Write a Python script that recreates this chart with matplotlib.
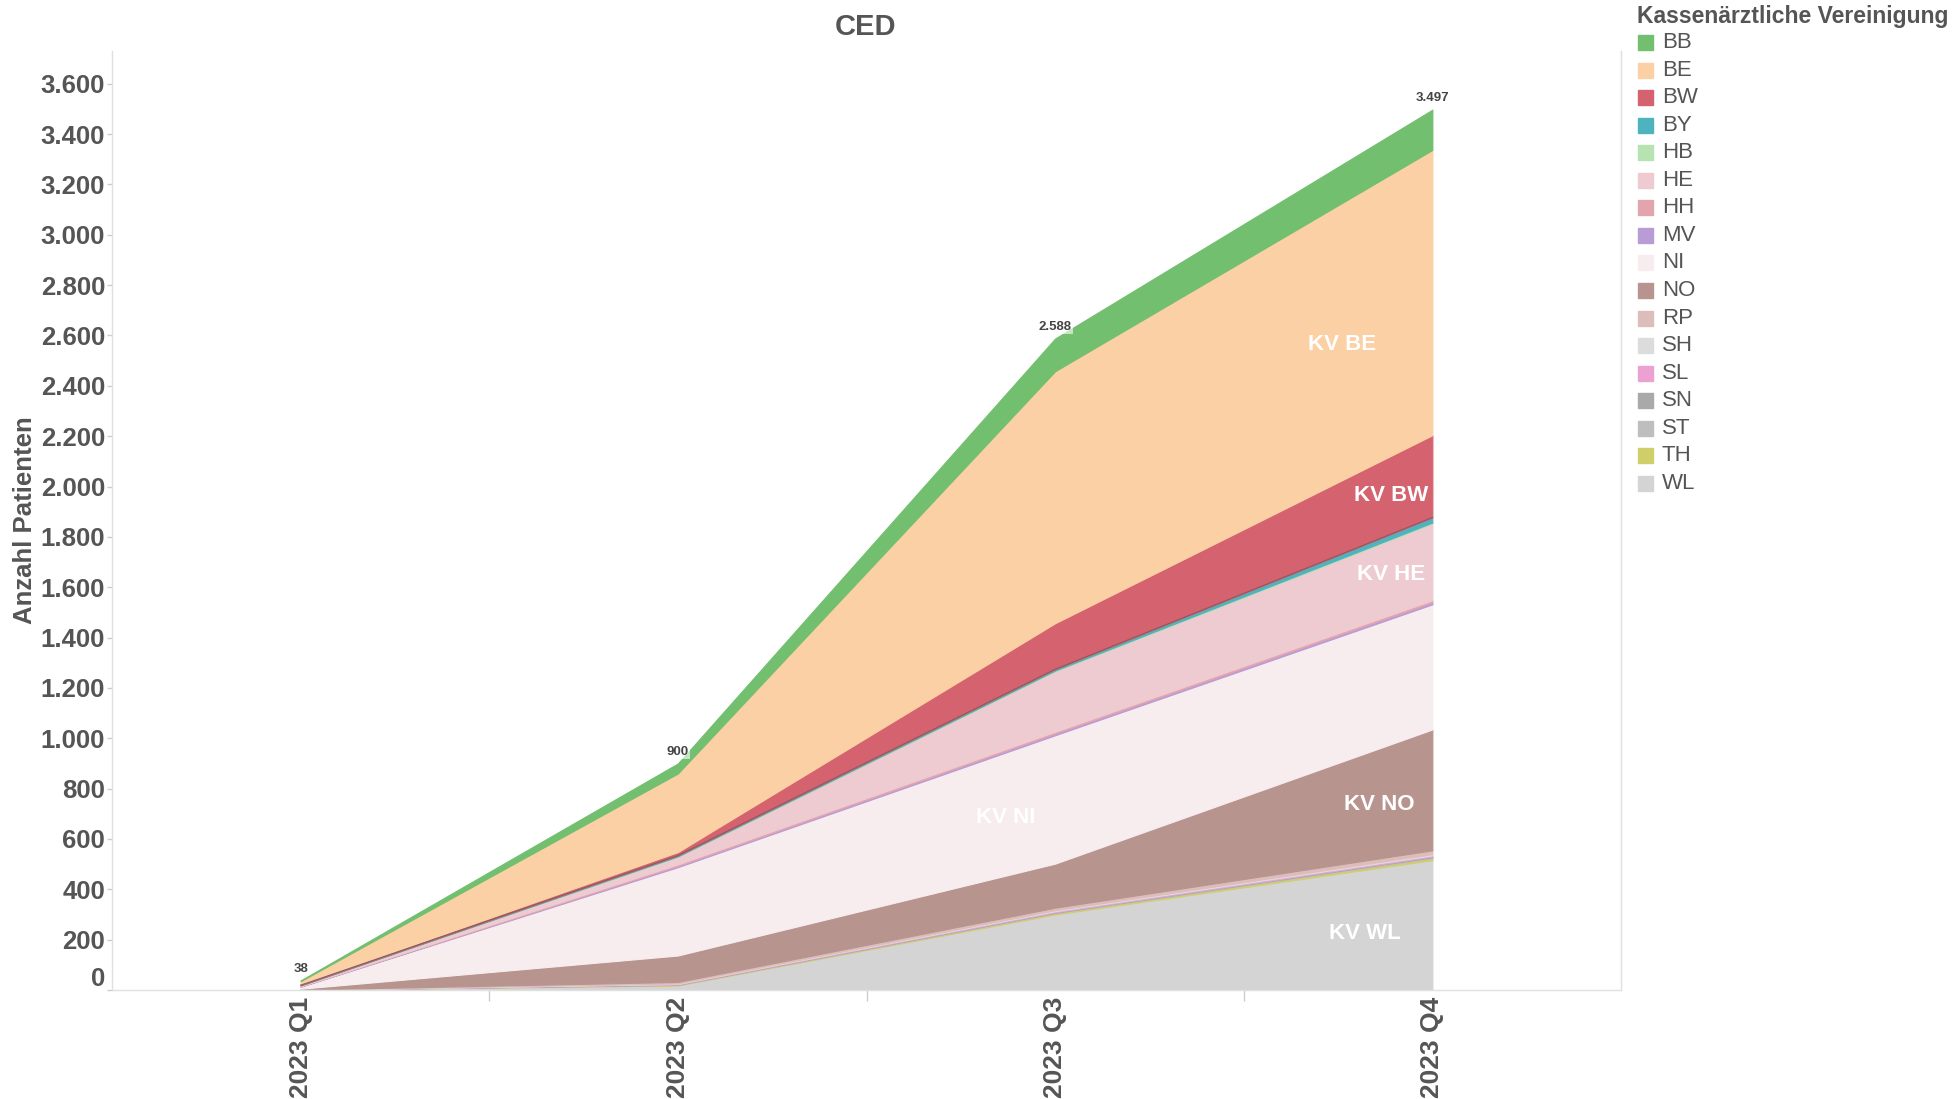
import numpy as np
import matplotlib.pyplot as plt
from matplotlib.patches import Rectangle

# Data: patients per KV and quarter
quarters = ["2023 Q1", "2023 Q2", "2023 Q3", "2023 Q4"]

BB = [3, 40, 130, 160]
BE = [12, 312, 1001, 1133]
BW = [4, 14, 183, 327]
BY = [1, 3, 5, 20]
HB = [0, 2, 3, 4]
HE = [3, 30, 240, 305]
HH = [1, 6, 7, 8]
MV = [1, 5, 7, 8]
NI = [8, 351, 510, 497]
NO = [3, 105, 175, 480]
RP = [1, 6, 10, 15]
SH = [0, 2, 4, 5]
SL = [0, 2, 4, 5]
SN = [0, 1, 2, 3]
ST = [0, 1, 2, 3]
TH = [0, 2, 5, 8]
WL = [1, 18, 300, 516]

kv_names = ["BB", "BE", "BW", "BY", "HB", "HE", "HH", "MV", "NI",
            "NO", "RP", "SH", "SL", "SN", "ST", "TH", "WL"]
kv_values = [BB, BE, BW, BY, HB, HE, HH, MV, NI, NO, RP, SH, SL, SN, ST, TH, WL]

COLORS = {
    "BB": "#72BF6F", "BE": "#FBD0A4", "BW": "#D4636F", "BY": "#4FB3BF",
    "HB": "#B7E2B1", "HE": "#EDCBD1", "HH": "#E3A5AD", "MV": "#B99BD6",
    "NI": "#F7ECEE", "NO": "#B8948F", "RP": "#DDBDB9", "SH": "#DCDCDC",
    "SL": "#EBA2D3", "SN": "#A9A9A9", "ST": "#BEBEBE", "TH": "#CFCF6A",
    "WL": "#D4D4D4",
}

TEXT = "#555555"
plt.rcParams["font.family"] = ["Liberation Sans", "DejaVu Sans"]

fig = plt.figure(figsize=(19.55, 10.99), dpi=100)
ax = fig.add_axes([112 / 1955, 109 / 1099, (1621 - 112) / 1955, (990 - 51) / 1099])

x = np.arange(len(quarters))
# stacked bottom-up: WL at the bottom, BB on top
order = kv_names[::-1]
series = [np.array(kv_values[kv_names.index(k)]) for k in order]
ax.stackplot(x, *series, colors=[COLORS[k] for k in order],
             edgecolor="face", linewidth=0.8)

# thin darker line at the bottom of BW like in the original
base_bw = np.sum([np.array(v) for v, k in zip(kv_values, kv_names)
                  if k not in ("BB", "BE", "BW")], axis=0)
ax.plot(x, base_bw, color="#8a5a5f", lw=0.8)

totals = np.sum(np.array(kv_values), axis=0)
for xi, t in zip(x, totals):
    ax.annotate(f"{t:,}".replace(",", "."), (xi, t), xytext=(0, 4),
                textcoords="offset points", ha="center", va="bottom",
                fontsize=9.5, fontweight="bold", color="#444444",
                bbox=dict(boxstyle="square,pad=0.1", fc="white", ec="none", alpha=0.6))

# in-area labels
area_labels = [("KV BE", 2.76, 2565), ("KV BW", 2.89, 1966), ("KV HE", 2.89, 1652),
               ("KV NI", 1.87, 687), ("KV NO", 2.86, 735), ("KV WL", 2.82, 226)]
for txt, lx, ly in area_labels:
    ax.text(lx, ly, txt, ha="center", va="center", color="white",
            fontsize=16, fontweight="bold")

ax.set_xlim(-0.5, 3.5)
ax.set_ylim(0, 3730)

ax.set_xticks(x)
ax.set_xticklabels(quarters, rotation=90, fontsize=19, fontweight="bold", color=TEXT)
ax.set_xticks([0.5, 1.5, 2.5], minor=True)
ax.tick_params(axis="x", which="major", length=0, pad=5)
ax.tick_params(axis="x", which="minor", length=8, color="#cccccc", width=1)

yticks = np.arange(0, 3601, 200)
ax.set_yticks(yticks)
ax.set_yticklabels([f"{v:,}".replace(",", ".") if v else "" for v in yticks],
                   fontsize=18.5, fontweight="bold", color=TEXT)
ax.tick_params(axis="y", length=3.5, color="#cccccc", width=1, pad=1.5)
ax.annotate("0", (0, 0), xycoords=("axes fraction", "data"), xytext=(-5, 8),
            textcoords="offset points", ha="right", va="center",
            fontsize=18.5, fontweight="bold", color=TEXT)

ax.spines["top"].set_visible(False)
for side in ["left", "right", "bottom"]:
    ax.spines[side].set_color("#e0e0e0")
    ax.spines[side].set_linewidth(1)

ax.set_ylabel("Anzahl Patienten", fontsize=18.5, fontweight="bold", color=TEXT)
ax.yaxis.set_label_coords(-0.050, 0.5)
fig.text(866 / 1955, 1 - 27 / 1099, "CED", ha="center", va="center",
         fontsize=21, fontweight="bold", color=TEXT)

# legend, drawn by hand to match the Tableau layout
fig.text(1637 / 1955, 1 - 16 / 1099, "Kassenärztliche Vereinigung", ha="left",
         va="center", fontsize=16.5, fontweight="bold", color=TEXT)
for i, k in enumerate(kv_names):
    yc = 42.5 + i * 27.55
    fig.patches.append(Rectangle((1638 / 1955, 1 - (yc + 7.5) / 1099), 15 / 1955, 15 / 1099,
                                 transform=fig.transFigure, color=COLORS[k]))
    fig.text(1662 / 1955, 1 - yc / 1099, k, ha="left", va="center",
             fontsize=16, color=TEXT)

fig.savefig("out.png", dpi=100)
